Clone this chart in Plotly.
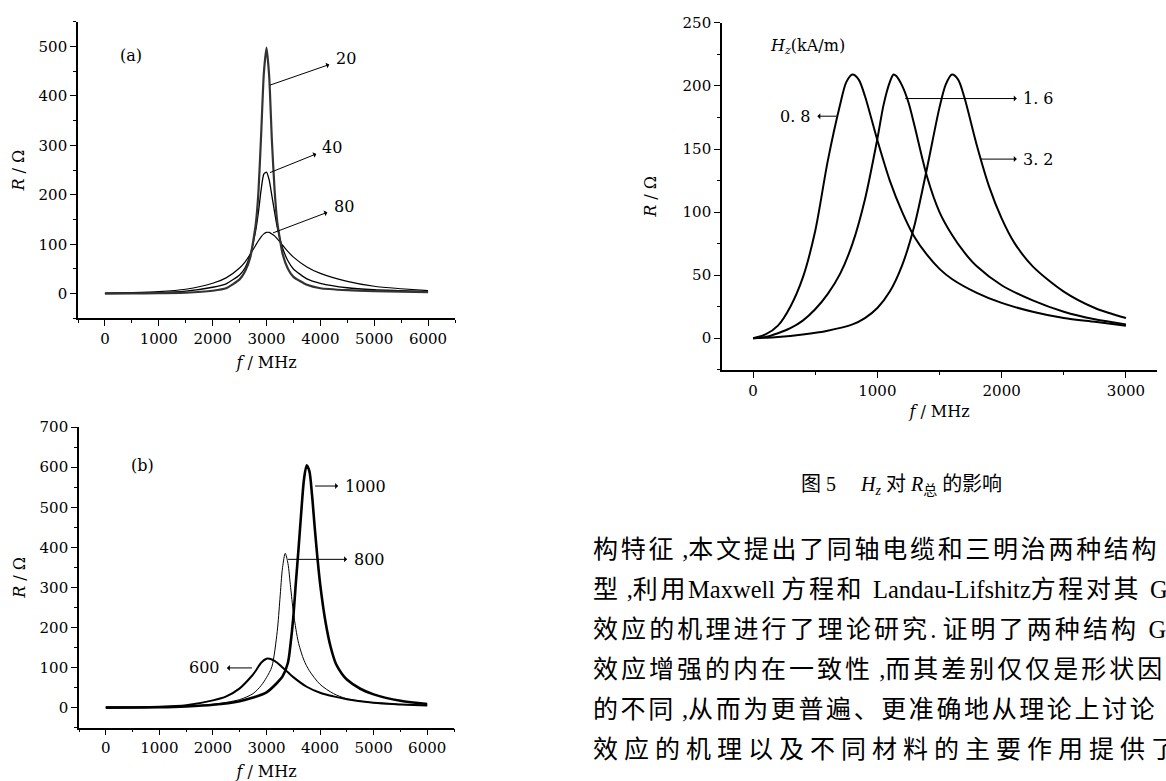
import plotly.graph_objects as go

# ---------------- data: panel (a) ----------------
freq_a = [0, 500, 1000, 1500, 2000, 2250, 2500, 2600, 2700, 2800, 2850, 2900, 2950, 3000,
          3050, 3100, 3150, 3200, 3300, 3400, 3500, 3750, 4000, 4500, 5000, 5500, 6000]
r_a_20 = [0, 0.5, 1, 2, 6, 11, 29, 45, 74, 140, 205, 320, 445, 498,
          440, 310, 210, 145, 80, 50, 34, 18, 11, 7, 5, 4, 3]
r_a_40 = [0.5, 1, 2, 5, 13, 20, 38, 52, 80, 128, 165, 210, 242, 246,
          230, 198, 165, 134, 92, 66, 50, 30, 21, 12, 8, 6, 4]
r_a_80 = [1, 2, 4, 9, 21, 32, 52, 64, 80, 98, 107, 115, 121, 124,
          124, 121, 117, 111, 98, 85, 74, 54, 41, 25, 15, 10, 6]
labels_a = ["20", "40", "80"]

# ---------------- data: panel (b) ----------------
freq_b_1000 = [0, 1000, 1500, 2000, 2500, 2750, 3000, 3200, 3300, 3400, 3450, 3500, 3550, 3600,
               3650, 3700, 3750, 3800, 3850, 3900, 3950, 4000, 4100, 4200, 4300, 4400, 4500,
               4750, 5000, 5500, 6000]
r_b_1000 = [0, 1, 3, 7, 16, 25, 38, 62, 78, 112, 160, 225, 315, 400,
            490, 570, 605, 590, 530, 450, 375, 310, 215, 150, 108, 86, 70,
            47, 33, 17, 9]
freq_b_800 = [0, 1000, 1500, 2000, 2500, 2750, 2900, 3000, 3100, 3200, 3250, 3300, 3350, 3400,
              3450, 3500, 3550, 3600, 3700, 3800, 4000, 4250, 4500, 5000, 5500, 6000]
r_b_800 = [0, 1, 3, 8, 20, 35, 55, 75, 102, 190, 270, 350, 385, 360,
           300, 240, 195, 160, 118, 92, 58, 35, 22, 12, 8, 6]
freq_b_600 = [0, 500, 1000, 1500, 2000, 2250, 2500, 2700, 2800, 2900, 3000, 3100, 3200, 3300,
              3400, 3500, 3750, 4000, 4250, 4500, 5000, 5500, 6000]
r_b_600 = [1, 1, 2, 6, 18, 28, 48, 75, 92, 112, 122, 120, 112, 100,
           88, 76, 52, 37, 28, 21, 12, 8, 5]
labels_b = ["1000", "800", "600"]

# ---------------- data: panel (c) ----------------
freq_c_08 = [0, 100, 200, 300, 400, 500, 600, 700, 750, 800, 850, 900, 1000, 1100, 1200,
             1300, 1400, 1500, 1600, 1800, 2000, 2250, 2500, 2750, 3000]
r_c_08 = [0, 3, 10, 25, 48, 85, 140, 185, 203, 209, 205, 192, 157, 125, 100,
          80, 66, 55, 47, 36, 28, 21, 16, 13, 10]
freq_c_16 = [0, 100, 200, 300, 400, 500, 600, 700, 800, 900, 1000, 1050, 1100, 1130, 1150,
             1200, 1250, 1300, 1400, 1500, 1600, 1700, 1800, 2000, 2250, 2500, 2750, 3000]
r_c_16 = [0, 1, 4, 8, 14, 23, 35, 51, 75, 110, 158, 185, 203, 209, 208,
          200, 187, 168, 128, 100, 82, 68, 57, 42, 30, 21, 15, 11]
freq_c_32 = [0, 200, 400, 600, 800, 900, 1000, 1100, 1200, 1300, 1400, 1500, 1550, 1600,
             1650, 1700, 1800, 1900, 2000, 2100, 2250, 2500, 2750, 3000]
r_c_32 = [0, 1, 3, 6, 11, 16, 24, 37, 58, 90, 135, 183, 201, 209,
          205, 191, 153, 120, 95, 76, 57, 37, 24, 16]
labels_c = ["0. 8", "1. 6", "3. 2"]

# ---------------- text ----------------
y_title = "<i>R</i> / Ω"
x_title = "<i>f</i> / MHz"
caption = "图 5\u2003 <i>H</i><sub><i>z</i></sub> 对 <i>R</i><sub>总</sub> 的影响"
body_lines = [
    [("c", "构特征"), ("l", " ,"), ("c", "本文提出了同轴电缆和三明治两种结构")],
    [("c", "型"), ("l", " ,"), ("c", "利用"), ("l", "Maxwell "), ("c", "方程和 "), ("l", "Landau-Lifshitz"), ("c", "方程对其 "), ("l", "G")],
    [("c", "效应的机理进行了理论研究"), ("l", ". "), ("c", "证明了两种结构 "), ("l", "G")],
    [("c", "效应增强的内在一致性"), ("l", " ,"), ("c", "而其差别仅仅是形状因")],
    [("c", "的不同"), ("l", " ,"), ("c", "从而为更普遍、更准确地从理论上讨论 "), ("l", "G")],
    [("c", "效应的机理以及不同材料的主要作用提供了")],
]
body_spacing = [2.7, 2.6, 3.1, 3.0, 2.6, 6.0]

W, H = 1166, 781


def px(x):
    return x / W


def py(y):
    return 1 - y / H


SERIF = "DejaVu Serif"
fig = go.Figure()

# panel (a)
fig.add_trace(go.Scatter(x=freq_a, y=r_a_80, mode="lines", line=dict(color="black", width=1.2, shape="spline", smoothing=0.6), xaxis="x", yaxis="y"))
fig.add_trace(go.Scatter(x=freq_a, y=r_a_40, mode="lines", line=dict(color="black", width=1.3, shape="spline", smoothing=0.6), xaxis="x", yaxis="y"))
fig.add_trace(go.Scatter(x=freq_a, y=r_a_20, mode="lines", line=dict(color="#333333", width=2.2, shape="spline", smoothing=0.5), xaxis="x", yaxis="y"))
# panel (b)
fig.add_trace(go.Scatter(x=freq_b_600, y=r_b_600, mode="lines", line=dict(color="black", width=2, shape="spline", smoothing=0.8), xaxis="x2", yaxis="y2"))
fig.add_trace(go.Scatter(x=freq_b_800, y=r_b_800, mode="lines", line=dict(color="black", width=1, shape="spline", smoothing=0.8), xaxis="x2", yaxis="y2"))
fig.add_trace(go.Scatter(x=freq_b_1000, y=r_b_1000, mode="lines", line=dict(color="black", width=2.6, shape="spline", smoothing=0.8), xaxis="x2", yaxis="y2"))
# panel (c)
for fx, ry in [(freq_c_08, r_c_08), (freq_c_16, r_c_16), (freq_c_32, r_c_32)]:
    fig.add_trace(go.Scatter(x=fx, y=ry, mode="lines", line=dict(color="black", width=2, shape="spline", smoothing=0.8), xaxis="x3", yaxis="y3"))


def axis(domain, rng, dtick, minor, anchor, title, standoff):
    return dict(
        domain=domain, range=rng, anchor=anchor, autorange=False,
        showline=True, linecolor="black", linewidth=1.6, mirror=False,
        showgrid=False, zeroline=False,
        ticks="outside", ticklen=6, tickwidth=1.4, tickcolor="black",
        tick0=0, dtick=dtick,
        tickfont=dict(family=SERIF, size=15, color="black"),
        minor=dict(ticks="outside", ticklen=3, tickwidth=1.2, tickcolor="black", tick0=0, dtick=minor, showgrid=False),
        title=dict(text=title, standoff=standoff, font=dict(family=SERIF, size=16, color="black")),
        fixedrange=True,
    )


layout = dict(
    width=W, height=H, autosize=False,
    margin=dict(l=0, r=0, t=0, b=0),
    paper_bgcolor="white", plot_bgcolor="white",
    showlegend=False,
    xaxis=axis([px(78), px(455)], [-500, 6500], 1000, 500, "y", x_title, 10),
    yaxis=axis([py(313), py(13)], [-50, 550], 100, 50, "x", y_title, 10),
    xaxis2=axis([px(79), px(454)], [-500, 6500], 1000, 500, "y2", x_title, 10),
    yaxis2=axis([py(727), py(423)], [-50, 700], 100, 50, "x2", y_title, 10),
    xaxis3=axis([px(722), px(1157)], [-250, 3250], 1000, 500, "y3", x_title, 7),
    yaxis3=axis([py(365), py(14)], [-25, 250], 50, 25, "x3", y_title, 22),
)
fig.update_layout(**layout)

ann = []


def callout(xr, yr, text_pos, curve_pt, text):
    # label text at text_pos, arrow runs from the curve point with its head at the label side
    ann.append(dict(xref=xr, yref=yr, axref=xr, ayref=yr,
                    x=curve_pt[0], y=curve_pt[1], ax=text_pos[0], ay=text_pos[1],
                    text=text, showarrow=True, arrowside="start", arrowhead=2, arrowsize=1,
                    arrowwidth=1, arrowcolor="black", standoff=0, startstandoff=5,
                    font=dict(family=SERIF, size=16, color="black")))


def label(xr, yr, x, y, text, anchor="left", size=16):
    ann.append(dict(xref=xr, yref=yr, x=x, y=y, text=text, showarrow=False, xanchor=anchor, yanchor="middle",
                    font=dict(family=SERIF, size=size, color="black")))


# panel (a) callouts
callout("x", "y", (4467, 475), (3065, 422), labels_a[0])
callout("x", "y", (4224, 296), (3065, 245), labels_a[1])
callout("x", "y", (4430, 177), (3121, 123), labels_a[2])
# panel (b) callouts
callout("x2", "y2", (4841, 553), (3907, 553), labels_b[0])
callout("x2", "y2", (4916, 370), (3402, 370), labels_b[1])
callout("x2", "y2", (1850, 99), (2729, 99), labels_b[2])
# panel (c) callouts
callout("x3", "y3", (340, 176), (672, 176), labels_c[0])
callout("x3", "y3", (2299, 190), (1224, 190), labels_c[1])
callout("x3", "y3", (2299, 142), (1826, 142), labels_c[2])
label("x3", "y3", 123, 231, "<i>H</i><sub><i>z</i></sub>(kA/m)")

# panel letters
label("paper", "paper", px(131), py(47), "(a)", anchor="center")
label("paper", "paper", px(142), py(462), "(b)", anchor="center")

# caption
ann.append(dict(xref="paper", yref="paper", x=px(901), y=py(482), text=caption, showarrow=False,
                xanchor="center", yanchor="middle",
                font=dict(family="Liberation Serif, Noto Sans CJK SC", size=20, color="black")))

# body text
for i, segs in enumerate(body_lines):
    ls = body_spacing[i]
    parts = []
    for kind, s in segs:
        if kind == "c":
            parts.append('<span style="font-size:25px;letter-spacing:%.1fpx">%s</span>' % (ls, s))
        else:
            parts.append('<span style="font-size:24.5px">%s</span>' % s)
    ann.append(dict(xref="paper", yref="paper", x=px(591), y=py(547 + 40.4 * i), text="".join(parts),
                    showarrow=False, xanchor="left", yanchor="middle", align="left",
                    font=dict(family="Liberation Serif, Noto Sans CJK SC", size=25, color="black")))

fig.update_layout(annotations=ann)
fig.write_html("out.html", config={"displayModeBar": False},
               post_script="document.body.style.margin='0px';")
